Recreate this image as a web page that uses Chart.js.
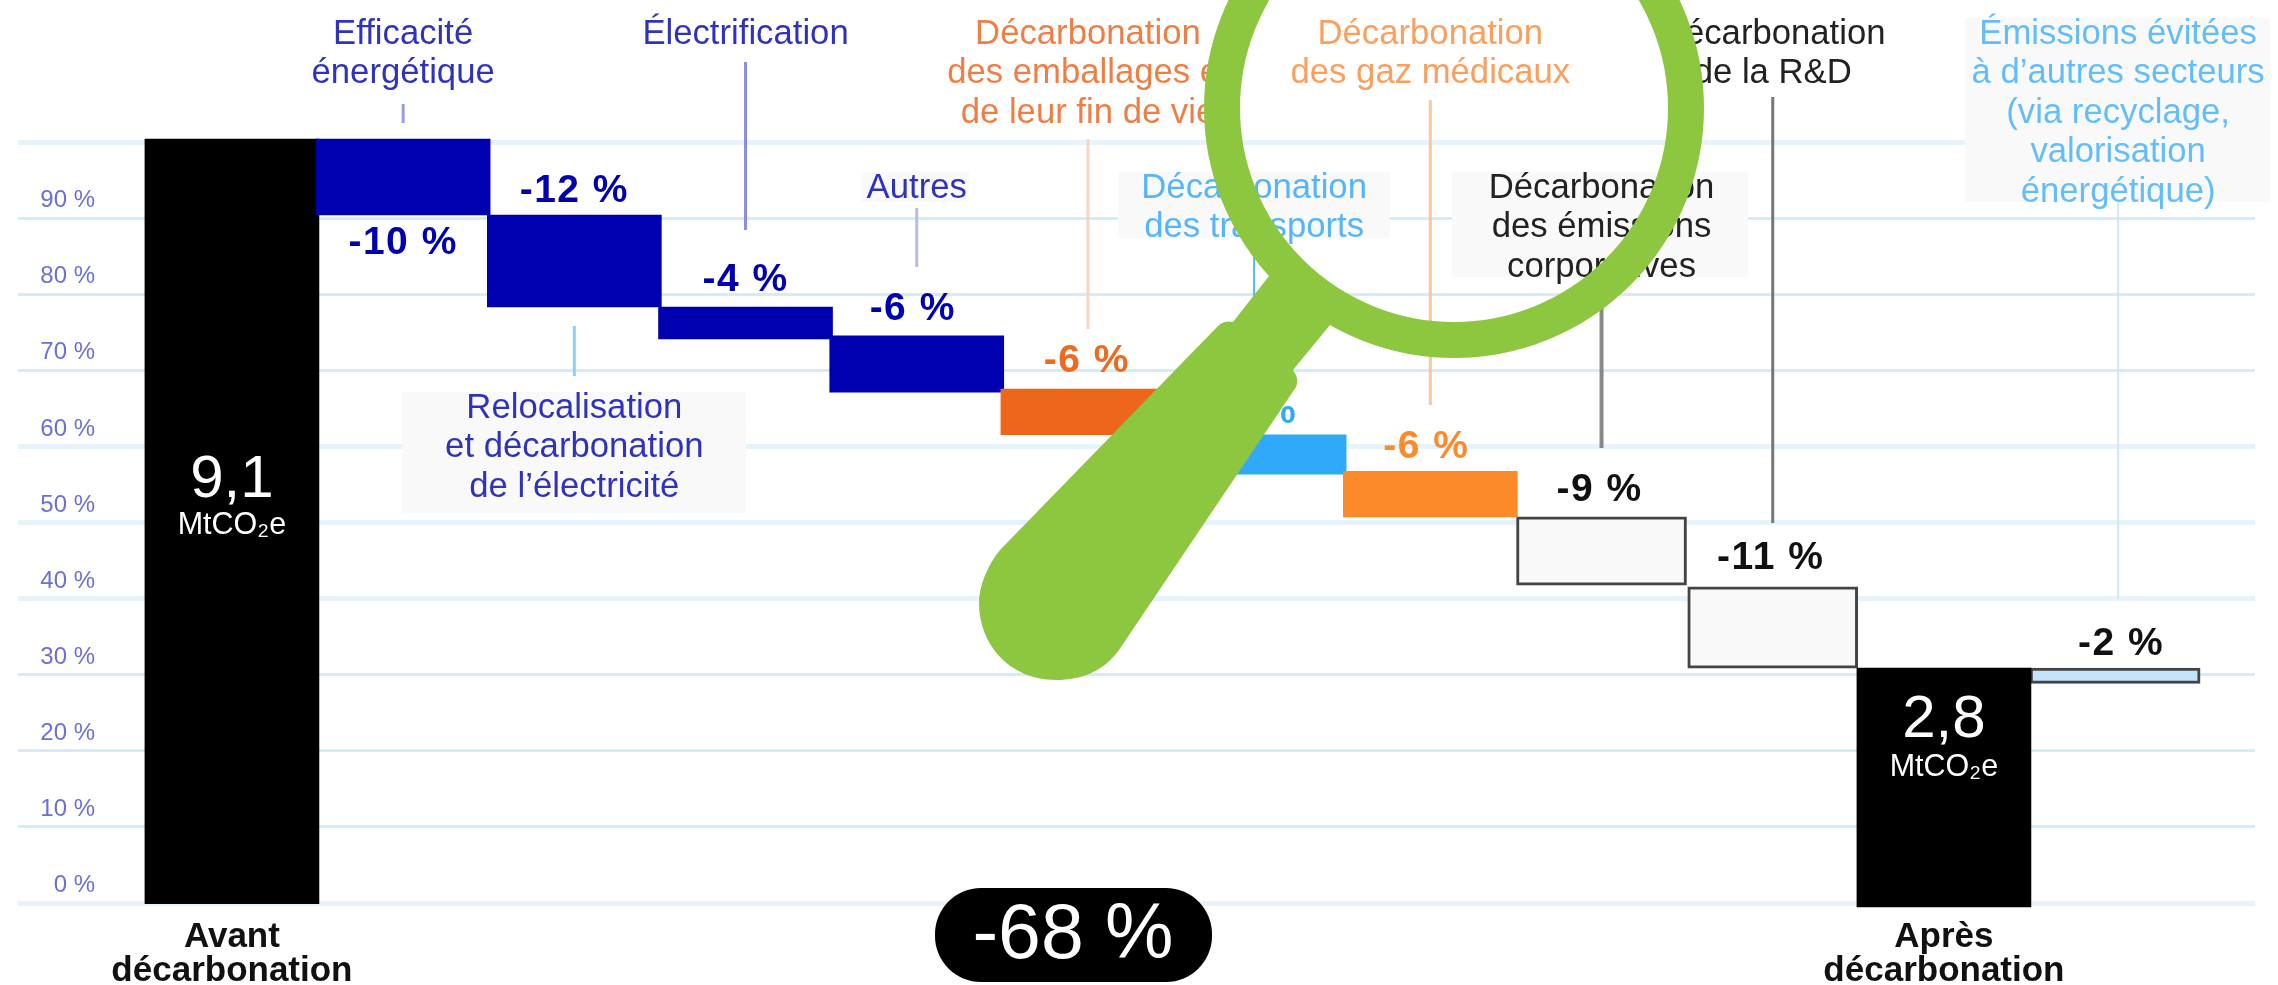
<!DOCTYPE html>
<html>
<head>
<meta charset="utf-8">
<title>Décarbonation</title>
<style>
  html, body { margin: 0; padding: 0; background: #fff; }
  canvas { display: block; }
</style>
<script src="https://cdn.jsdelivr.net/npm/chart.js@4/dist/chart.umd.min.js"></script>
</head>
<body>
<canvas id="myChart" width="2278" height="985"></canvas>
<script>
// valeurs, en % des emissions de depart
const axisLabels = [['Avant', 'décarbonation'], '', '', '', '', '', '', '', '', '', ['Après', 'décarbonation'], ''];
const barLow = [-0.1, 90.5, 78.4, 74.2, 67.2, 61.6, 56.4, 50.8, 41.8, 30.9, -0.5, 28.9];
const barHigh = [100.5, 100.5, 90.5, 78.4, 74.6, 67.6, 61.6, 56.8, 50.8, 41.6, 30.9, 30.9];
const barColors = ['#000000', '#0000b0', '#0000b0', '#0000b0', '#0000b0', '#ee651c', '#31a9f9', '#fb8a2a', '#f9f9f9', '#f9f9f9', '#000000', '#c2e4fa'];
const outlinedBars = [8, 9, 11];

const stepLabels = ['', '-10 %', '-12 %', '-4 %', '-6 %', '-6 %', '-5 %', '-6 %', '-9 %', '-11 %', '', '-2 %'];
const stepLabelColors = ['', '#0000b0', '#0000b0', '#0000b0', '#0000b0', '#ee6a1f', '#31a9f9', '#fb8a2a', '#111', '#111', '', '#111'];
const stepLabelY = [0, 243, 191, 280, 309, 361, 412, 447, 490, 558, 0, 644];
const stepLabelDx = [0, 0, 0, 0, -4, -1, -5, -4, -2, -2, 0, 6];

const yTicks = [0, 10, 20, 30, 40, 50, 60, 70, 80, 90, 100];
const yTickLabels = ['0 %', '10 %', '20 %', '30 %', '40 %', '50 %', '60 %', '70 %', '80 %', '90 %', ''];
const paleGridTicks = [0, 40, 50, 60, 100];

const totalLabels = [{ bar: 0, value: '9,1', y: 480, unitY: 526 }, { bar: 10, value: '2,8', y: 720, unitY: 768 }];

const callouts = [
    { bar: 1, lines: ['Efficacité', 'énergétique'], color: '#2f33bb', y: 34, leader: [104, 123], leaderColor: '#9a9ce0' },
    { bar: 3, lines: ['Électrification'], color: '#2f33bb', y: 34, leader: [62, 230], leaderColor: '#8a8ddc' },
    { bar: 2, lines: ['Relocalisation', 'et décarbonation', 'de l’électricité'], color: '#2f33bb', y: 408, box: [402, 392, 746, 513], leader: [326, 376], leaderColor: '#8fd0f8' },
    { bar: 4, lines: ['Autres'], color: '#2f33bb', y: 188, box: [861, 172, 969, 202], leader: [208, 267], leaderColor: '#b8bae8' },
    { bar: 5, lines: ['Décarbonation', 'des emballages et', 'de leur fin de vie'], color: '#ee7e45', y: 34, leader: [139, 329], leaderColor: '#f6d5c3' },
    { bar: 6, dx: -5, lines: ['Décarbonation', 'des transports'], color: '#55b5fb', y: 188, box: [1118, 172, 1390, 238], leader: [238, 390], leaderColor: '#55b5fb', leaderWidth: 2 },
    { bar: 7, lines: ['Décarbonation', 'des gaz médicaux'], color: '#fb9f5e', y: 34, leader: [100, 405], leaderColor: '#f9c79d' },
    { bar: 8, lines: ['Décarbonation', 'des émissions', 'corporatives'], color: '#222', y: 188, box: [1452, 172, 1748, 277], leader: [277, 448], leaderColor: '#888', leaderWidth: 4 },
    { bar: 9, lines: ['Décarbonation', 'de la R&D'], color: '#222', y: 34, leader: [97, 523], leaderColor: '#777' },
    { bar: 11, dx: 3, lines: ['Émissions évitées', 'à d’autres secteurs', '(via recyclage,', 'valorisation', 'énergétique)'], color: '#63bdfb', y: 34, box: [1965, 18, 2270, 202], leader: [202, 599], leaderColor: '#cde8fb', leaderWidth: 2 }
];

const FONT = '"Liberation Sans", Arial, sans-serif';
const GREEN = '#8dc63f';

function barPoints(indexes) {
    return indexes.map(i => ({ x: i, y: [barLow[i], barHigh[i]] }));
}

const solidBars = barLow.map((v, i) => i).filter(i => !outlinedBars.includes(i));

const annotations = {
    id: 'annotations',
    beforeDatasetsDraw(chart) {
        const { ctx, scales: { x } } = chart;
        ctx.save();
        ctx.textAlign = 'center';
        ctx.textBaseline = 'middle';
        ctx.font = '34.7px ' + FONT;
        callouts.forEach(c => {
            const cx = x.getPixelForValue(c.bar) + (c.dx || 0);
            if (c.box) {
                ctx.fillStyle = '#f9f9f9';
                ctx.fillRect(c.box[0], c.box[1], c.box[2] - c.box[0], c.box[3] - c.box[1]);
            }
            ctx.strokeStyle = c.leaderColor;
            ctx.lineWidth = c.leaderWidth || 3;
            ctx.beginPath();
            ctx.moveTo(cx, c.leader[0]);
            ctx.lineTo(cx, c.leader[1]);
            ctx.stroke();
            ctx.fillStyle = c.color;
            c.lines.forEach((line, i) => ctx.fillText(line, cx, c.y + i * 39.5));
        });
        ctx.restore();
    },
    afterDraw(chart) {
        const { ctx, scales: { x } } = chart;
        ctx.save();
        ctx.textAlign = 'center';
        ctx.textBaseline = 'middle';

        // etiquettes des paliers
        ctx.font = 'bold 39px ' + FONT;
        ctx.letterSpacing = '1.5px';
        stepLabels.forEach((label, i) => {
            if (!label) return;
            ctx.fillStyle = stepLabelColors[i];
            ctx.fillText(label, x.getPixelForValue(i) + stepLabelDx[i], stepLabelY[i]);
        });
        ctx.letterSpacing = '0px';

        // totaux dans les barres noires
        ctx.fillStyle = '#fff';
        totalLabels.forEach(t => {
            const cx = x.getPixelForValue(t.bar);
            ctx.font = '60px ' + FONT;
            ctx.fillText(t.value, cx, t.y);
            ctx.font = '30.5px ' + FONT;
            ctx.fillText('MtCO₂e', cx, t.unitY);
        });

        // pastille -68 %
        ctx.fillStyle = '#000';
        ctx.beginPath();
        ctx.roundRect(935, 888, 277, 94, 46);
        ctx.fill();
        ctx.fillStyle = '#fff';
        ctx.font = '77px ' + FONT;
        ctx.fillText('-68 %', 1073, 937);

        // loupe posee sur le graphique
        ctx.strokeStyle = GREEN;
        ctx.lineWidth = 36;
        ctx.beginPath();
        ctx.arc(1454, 108, 232, 0, Math.PI * 2);
        ctx.stroke();

        ctx.fillStyle = GREEN;
        ctx.beginPath();
        ctx.moveTo(1269, 276);
        ctx.lineTo(1330, 325);
        ctx.lineTo(1293, 370);
        ctx.quadraticCurveTo(1300, 380, 1296, 387);
        ctx.lineTo(1121, 647);
        ctx.bezierCurveTo(1105, 672, 1080, 680, 1056, 680);
        ctx.bezierCurveTo(1010, 680, 979, 645, 979, 603);
        ctx.bezierCurveTo(979, 585, 988, 565, 1000, 550);
        ctx.lineTo(1218, 326);
        ctx.quadraticCurveTo(1224, 320, 1233, 322);
        ctx.closePath();
        ctx.fill();
        ctx.restore();
    }
};

const ctx = document.getElementById('myChart');

new Chart(ctx, {
    type: 'bar',
    data: {
        datasets: [
            {
                label: 'solid',
                data: barPoints(solidBars),
                backgroundColor: solidBars.map(i => barColors[i]),
                borderWidth: 0,
                barThickness: 174,
                grouped: false,
                clip: false,
                order: 1
            },
            {
                label: 'outlined',
                data: barPoints(outlinedBars),
                backgroundColor: outlinedBars.map(i => barColors[i]),
                borderColor: '#444',
                borderWidth: 3,
                borderSkipped: false,
                barThickness: 170,
                grouped: false,
                order: 2
            }
        ]
    },
    options: {
        responsive: false,
        animation: false,
        devicePixelRatio: 1,
        layout: {
            autoPadding: false,
            padding: { left: 18, right: 23, top: 139, bottom: 0 }
        },
        plugins: {
            legend: { display: false },
            tooltip: { enabled: false }
        },
        scales: {
            x: {
                type: 'linear',
                bounds: 'data',
                offset: false,
                min: -0.794,
                max: 11.817,
                grid: { display: false, offset: false },
                border: { display: false },
                afterBuildTicks(scale) {
                    scale.ticks = axisLabels.map((l, i) => ({ value: i }));
                },
                afterFit(scale) {
                    scale.height = 82;
                },
                ticks: {
                    autoSkip: false,
                    maxRotation: 0,
                    padding: 10,
                    color: '#111',
                    font: { family: FONT, size: 35, weight: 'bold', lineHeight: 0.95 },
                    callback: (value, i) => axisLabels[i]
                }
            },
            y: {
                bounds: 'data',
                min: 0,
                max: 100.5,
                border: { display: false },
                grid: {
                    // les traits de graduation prolongent la grille jusqu'au bord gauche
                    tickLength: 78,
                    color: c => paleGridTicks.includes(c.tick.value) ? '#e6f3fb' : '#d4ecfa',
                    lineWidth: c => paleGridTicks.includes(c.tick.value) ? 5 : 3
                },
                afterBuildTicks(scale) {
                    scale.ticks = yTicks.map(v => ({ value: v }));
                },
                afterFit(scale) {
                    scale.width = 78;
                },
                ticks: {
                    autoSkip: false,
                    padding: -77,
                    labelOffset: -18,
                    color: '#6b6fd6',
                    font: { family: FONT, size: 24 },
                    callback: (value, i) => yTickLabels[i]
                }
            }
        }
    },
    plugins: [annotations]
});
</script>
</body>
</html>
